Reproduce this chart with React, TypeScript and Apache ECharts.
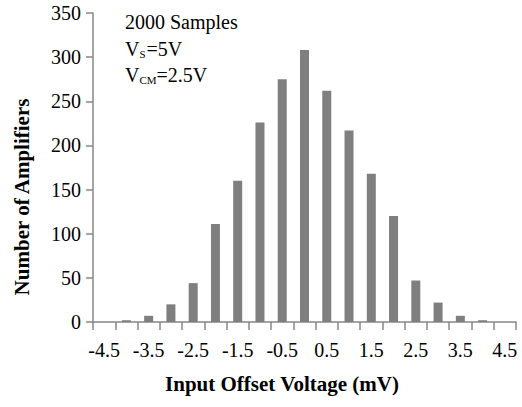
import React, { useEffect, useRef } from "react";
import * as echarts from "echarts";

const categories = ["-4.5", "-4", "-3.5", "-3", "-2.5", "-2", "-1.5", "-1", "-0.5", "0", "0.5", "1", "1.5", "2", "2.5", "3", "3.5", "4", "4.5"];
const counts = [0, 2, 7, 20, 44, 111, 160, 226, 275, 308, 262, 217, 168, 120, 47, 22, 7, 2, 0];
const yTicks = { min: 0, max: 350, interval: 50 };
const xTitle = "Input Offset Voltage (mV)";
const yTitle = "Number of Amplifiers";

const FONT = "'Liberation Serif', 'Times New Roman', serif";
const AXIS = "#878787";

export default function App() {
  const ref = useRef<HTMLDivElement>(null);
  useEffect(() => {
    if (!ref.current) return;
    const chart = echarts.init(ref.current, null, { renderer: "svg" });
    chart.setOption({
      animation: false,
      backgroundColor: "#ffffff",
      grid: { left: 93, right: 6, top: 13, bottom: 85, containLabel: false },
      xAxis: {
        type: "category",
        data: categories,
        boundaryGap: true,
        axisLine: { show: true, lineStyle: { color: AXIS, width: 1.5 } },
        axisTick: { show: true, interval: 0, length: 8, lineStyle: { color: AXIS, width: 1.5 } },
        axisLabel: { interval: 1, color: "#000", fontFamily: FONT, fontSize: 20, margin: 18 },
        splitLine: { show: false },
      },
      yAxis: {
        type: "value",
        min: yTicks.min,
        max: yTicks.max,
        interval: yTicks.interval,
        axisLine: { show: true, lineStyle: { color: AXIS, width: 1.5 } },
        axisTick: { show: true, length: 7, lineStyle: { color: AXIS, width: 1.5 } },
        axisLabel: { color: "#000", fontFamily: FONT, fontSize: 20, margin: 12 },
        splitLine: { show: false },
      },
      series: [
        {
          type: "bar",
          data: counts,
          barWidth: 9,
          itemStyle: { color: "#7f7f7f" },
        },
      ],
      graphic: [
        {
          type: "text",
          x: 22,
          y: 197,
          rotation: Math.PI / 2,
          style: {
            text: yTitle,
            fontFamily: FONT,
            fontSize: 21,
            fontWeight: "bold",
            fill: "#000",
            align: "center",
            verticalAlign: "middle",
          },
        },
        {
          type: "text",
          x: 282,
          y: 384,
          style: {
            text: xTitle,
            fontFamily: FONT,
            fontSize: 21,
            fontWeight: "bold",
            fill: "#000",
            align: "center",
            verticalAlign: "middle",
          },
        },
        {
          type: "text",
          x: 125,
          y: 22,
          style: {
            text: "2000 Samples",
            fontFamily: FONT,
            fontSize: 20,
            fill: "#000",
            align: "left",
            verticalAlign: "middle",
          },
        },
        {
          type: "text",
          x: 125,
          y: 48,
          style: {
            text: "{v|V}{s|S}{v|=5V}",
            fontFamily: FONT,
            fill: "#000",
            align: "left",
            verticalAlign: "middle",
            rich: {
              v: { fontFamily: FONT, fontSize: 20, fill: "#000", verticalAlign: "bottom", lineHeight: 22 },
              s: { fontFamily: FONT, fontSize: 11, fill: "#000", verticalAlign: "bottom", lineHeight: 22, padding: [0, 1, 0, 0] },
            },
          },
        },
        {
          type: "text",
          x: 125,
          y: 74,
          style: {
            text: "{v|V}{s|CM}{v|=2.5V}",
            fontFamily: FONT,
            fill: "#000",
            align: "left",
            verticalAlign: "middle",
            rich: {
              v: { fontFamily: FONT, fontSize: 20, fill: "#000", verticalAlign: "bottom", lineHeight: 22 },
              s: { fontFamily: FONT, fontSize: 11, fill: "#000", verticalAlign: "bottom", lineHeight: 22 },
            },
          },
        },
      ],
    });
    return () => chart.dispose();
  }, []);
  return <div ref={ref} style={{ width: 522, height: 407, position: "absolute", left: 0, top: 0 }} />;
}
